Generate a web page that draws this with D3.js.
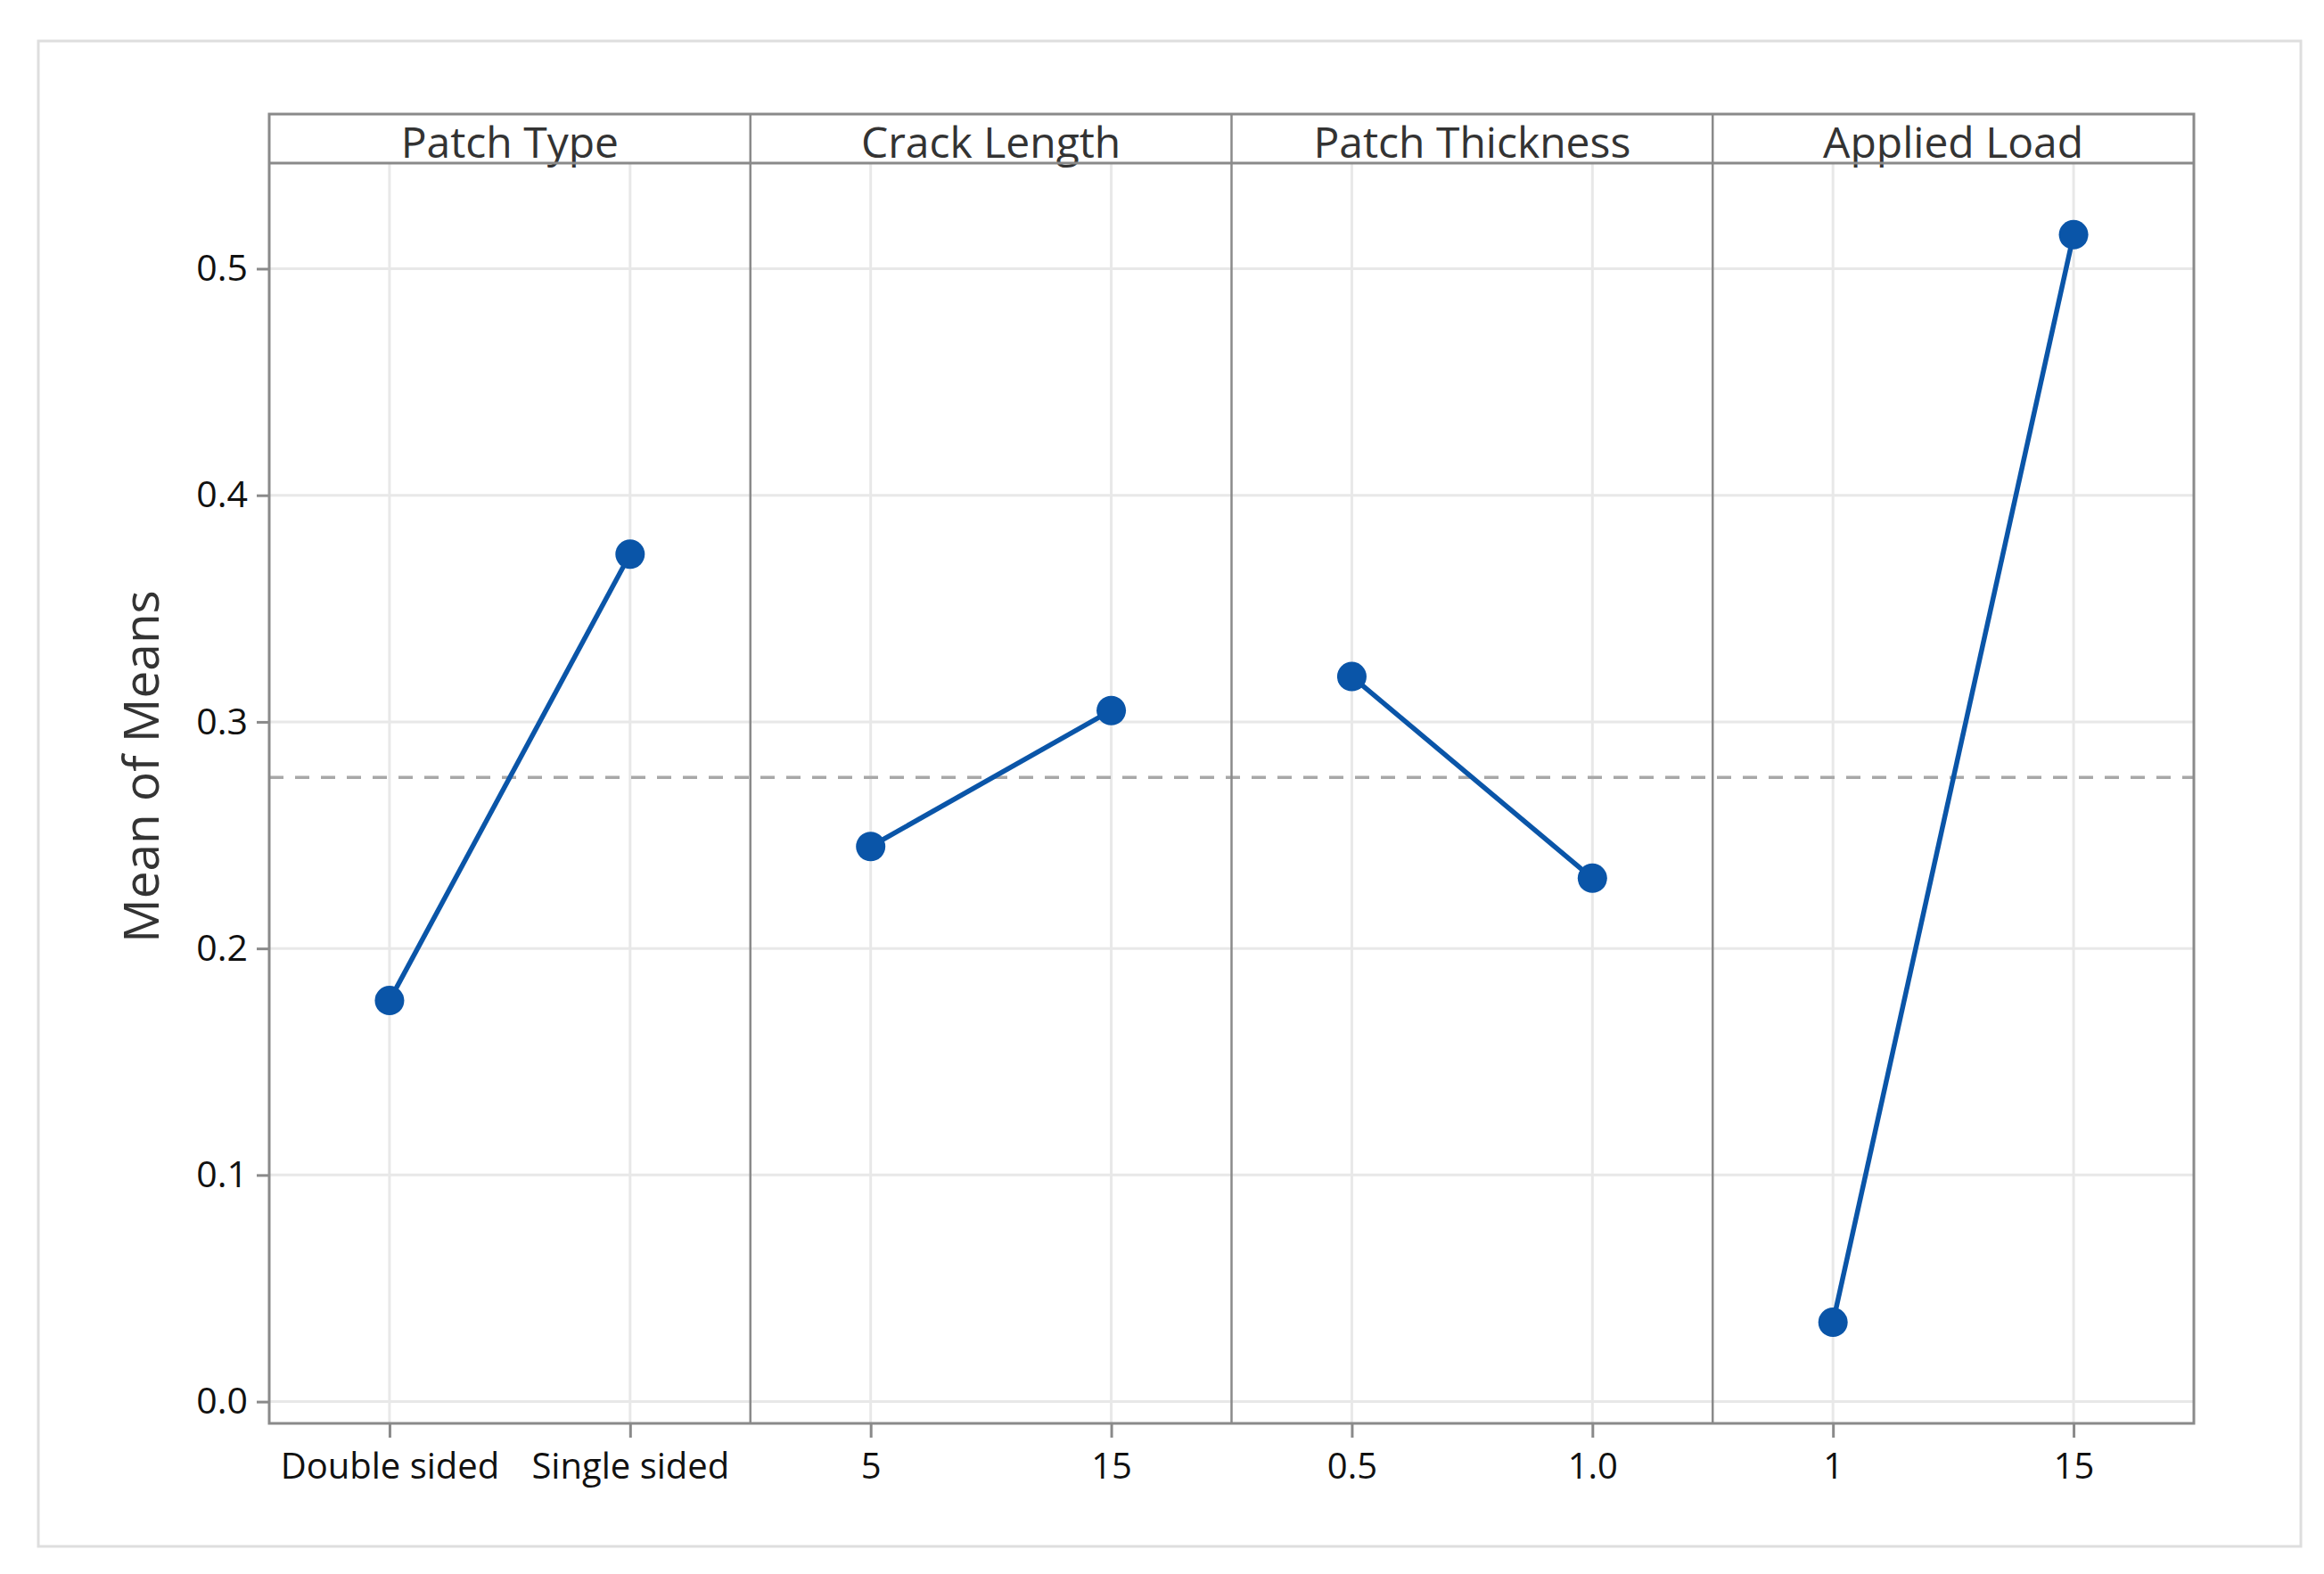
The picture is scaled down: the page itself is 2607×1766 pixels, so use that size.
<!DOCTYPE html>
<html>
<head>
<meta charset="utf-8">
<script src="https://cdn.jsdelivr.net/npm/d3@7"></script>
<style>
  html, body { margin: 0; padding: 0; background: #ffffff; }
  svg { display: block; }
  text { font-family: "Open Sans", "Noto Sans", sans-serif; }
</style>
</head>
<body>
<script>
// ---- data ----
const factors = ["Patch Type", "Crack Length", "Patch Thickness", "Applied Load"];
const levels = [
  ["Double sided", "Single sided"],
  ["5", "15"],
  ["0.5", "1.0"],
  ["1", "15"]
];
const means = [
  [0.177, 0.374],
  [0.245, 0.305],
  [0.320, 0.231],
  [0.035, 0.515]
];
const grandMean = 0.2755;
const yTicks = [0.0, 0.1, 0.2, 0.3, 0.4, 0.5];
const yTitle = "Mean of Means";

// ---- layout ----
const W = 2607, H = 1766;
const frame = { left: 302, right: 2461, top: 128, header: 183, bottom: 1597 };
const blue = "#0a55a8";

const svg = d3.select("body").append("svg")
  .attr("width", W).attr("height", H);

svg.append("rect").attr("width", W).attr("height", H).attr("fill", "#fff");

// outer light border
svg.append("rect")
  .attr("x", 43).attr("y", 46).attr("width", 2581 - 43).attr("height", 1735 - 46)
  .attr("fill", "none").attr("stroke", "#dedede").attr("stroke-width", 3);

const y = d3.scaleLinear().domain([-0.0096, 0.5466]).range([frame.bottom, frame.header]);
const panel = d3.scaleBand().domain(factors).range([frame.left, frame.right]).paddingInner(0).paddingOuter(0);
const bw = panel.bandwidth();

// horizontal gridlines
svg.append("g").selectAll("line").data(yTicks).join("line")
  .attr("x1", frame.left).attr("x2", frame.right)
  .attr("y1", d => y(d)).attr("y2", d => y(d))
  .attr("stroke", "#e8e8e8").attr("stroke-width", 3);

// per-panel content
factors.forEach((f, i) => {
  const x0 = panel(f);
  const xp = d3.scalePoint().domain(levels[i]).range([0, bw]).padding(0.5);
  const g = svg.append("g").attr("transform", `translate(${x0},0)`);

  // vertical gridlines
  g.selectAll("line.vg").data(levels[i]).join("line")
    .attr("class", "vg")
    .attr("x1", d => xp(d)).attr("x2", d => xp(d))
    .attr("y1", frame.header).attr("y2", frame.bottom)
    .attr("stroke", "#e8e8e8").attr("stroke-width", 3);

  // bottom axis
  const ax = g.append("g").attr("transform", `translate(0,${frame.bottom})`)
    .call(d3.axisBottom(xp).tickSize(16).tickPadding(12));
  ax.select(".domain").remove();
  ax.selectAll(".tick line").attr("stroke", "#8a8a8a").attr("stroke-width", 3);
  ax.selectAll(".tick text").attr("font-size", 40).attr("fill", "#111")
    .attr("font-weight", 500).attr("dy", "0.85em");

  // header title
  g.append("text")
    .attr("x", bw / 2).attr("y", 177)
    .attr("text-anchor", "middle")
    .attr("font-size", 48).attr("fill", "#333")
    .text(f);
});

// grand mean dashed line
svg.append("line")
  .attr("x1", frame.left).attr("x2", frame.right)
  .attr("y1", y(grandMean)).attr("y2", y(grandMean))
  .attr("stroke", "#a8a8a8").attr("stroke-width", 3.5)
  .attr("stroke-dasharray", "16,13");

// lines and markers
factors.forEach((f, i) => {
  const x0 = panel(f);
  const xp = d3.scalePoint().domain(levels[i]).range([0, bw]).padding(0.5);
  const pts = levels[i].map((l, j) => ({ l, v: means[i][j] }));
  const g = svg.append("g").attr("transform", `translate(${x0},0)`);
  const line = d3.line().x(d => xp(d.l)).y(d => y(d.v));
  g.append("path").datum(pts).attr("d", line)
    .attr("fill", "none").attr("stroke", blue).attr("stroke-width", 5.5);
  g.selectAll("circle").data(pts).join("circle")
    .attr("cx", d => xp(d.l)).attr("cy", d => y(d.v))
    .attr("r", 16.5).attr("fill", blue);
});

// panel separators, header line, frame
factors.slice(1).forEach(f => {
  svg.append("line")
    .attr("x1", panel(f)).attr("x2", panel(f))
    .attr("y1", frame.top).attr("y2", frame.bottom)
    .attr("stroke", "#8a8a8a").attr("stroke-width", 2.5);
});
svg.append("line")
  .attr("x1", frame.left).attr("x2", frame.right)
  .attr("y1", frame.header).attr("y2", frame.header)
  .attr("stroke", "#8a8a8a").attr("stroke-width", 3);
svg.append("rect")
  .attr("x", frame.left).attr("y", frame.top)
  .attr("width", frame.right - frame.left).attr("height", frame.bottom - frame.top)
  .attr("fill", "none").attr("stroke", "#8a8a8a").attr("stroke-width", 3);

// y axis
const ay = svg.append("g").attr("transform", `translate(${frame.left},0)`)
  .call(d3.axisLeft(y).tickValues(yTicks).tickFormat(d3.format(".1f")).tickSize(14).tickPadding(10));
ay.select(".domain").remove();
ay.selectAll(".tick line").attr("stroke", "#8a8a8a").attr("stroke-width", 3);
ay.selectAll(".tick text").attr("font-size", 41).attr("fill", "#111").attr("font-weight", 500);

// y title
svg.append("text")
  .attr("transform", `translate(178,860) rotate(-90)`)
  .attr("text-anchor", "middle")
  .attr("font-size", 55).attr("fill", "#333")
  .text(yTitle);
</script>
</body>
</html>
